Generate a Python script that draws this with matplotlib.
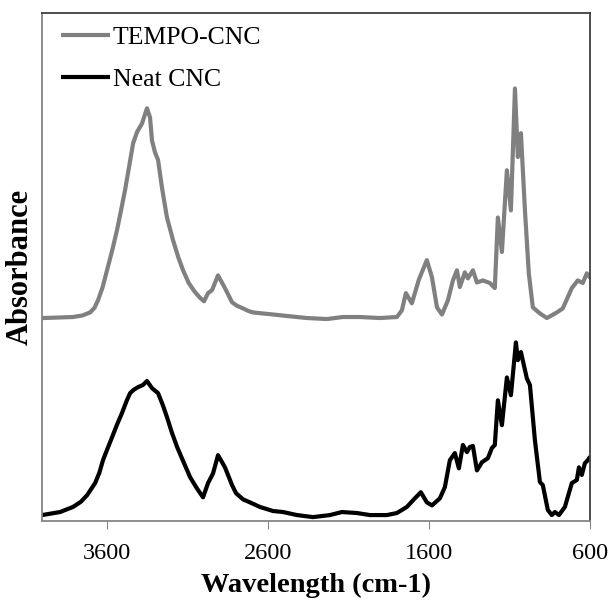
import matplotlib
matplotlib.use("Agg")
import matplotlib.pyplot as plt

# FTIR spectra, wavenumber (cm-1) and absorbance (arbitrary, offset)
tempo_wn = [3994, 3900, 3808, 3750, 3702, 3675, 3653, 3625, 3597, 3565, 3535, 3510, 3485,
            3460, 3435, 3411, 3380, 3349, 3330, 3318, 3300, 3280, 3256, 3225, 3187, 3155,
            3125, 3090, 3051, 3020, 2995, 2970, 2945, 2908, 2865, 2821, 2790, 2753, 2720,
            2691, 2630, 2567, 2480, 2356, 2232, 2133, 2027, 1903, 1798, 1767, 1742, 1705,
            1661, 1612, 1580, 1549, 1518, 1481, 1450, 1425, 1407, 1376, 1357, 1326, 1301,
            1264, 1221, 1190, 1171, 1146, 1115, 1090, 1065, 1047, 1028, 1003, 979, 954, 910,
            867, 805, 768, 712, 675, 644, 619, 600]
tempo_abs = [0.400, 0.401, 0.402, 0.405, 0.411, 0.420, 0.435, 0.460, 0.494, 0.533, 0.573,
             0.612, 0.652, 0.698, 0.744, 0.766, 0.783, 0.813, 0.795, 0.750, 0.727, 0.711,
             0.657, 0.598, 0.553, 0.520, 0.494, 0.469, 0.451, 0.440, 0.433, 0.449, 0.455,
             0.484, 0.459, 0.431, 0.424, 0.419, 0.414, 0.411, 0.409, 0.407, 0.404, 0.400,
             0.398, 0.402, 0.402, 0.400, 0.402, 0.415, 0.449, 0.429, 0.476, 0.514, 0.480,
             0.421, 0.407, 0.435, 0.474, 0.494, 0.461, 0.490, 0.478, 0.494, 0.470, 0.474,
             0.469, 0.459, 0.598, 0.530, 0.691, 0.612, 0.852, 0.717, 0.764, 0.612, 0.488,
             0.421, 0.409, 0.400, 0.411, 0.419, 0.459, 0.474, 0.469, 0.488, 0.480]

neat_wn = [4000, 3888, 3808, 3760, 3721, 3671, 3645, 3622, 3595, 3566, 3535, 3504, 3475,
           3454, 3430, 3404, 3375, 3349, 3318, 3280, 3250, 3225, 3195, 3162, 3120, 3082,
           3040, 3001, 2970, 2939, 2908, 2865, 2821, 2796, 2753, 2710, 2648, 2567, 2505,
           2418, 2319, 2213, 2139, 2046, 1965, 1860, 1798, 1736, 1686, 1649, 1612, 1580,
           1531, 1500, 1469, 1438, 1413, 1388, 1363, 1345, 1326, 1301, 1270, 1233, 1208,
           1190, 1171, 1146, 1115, 1090, 1059, 1047, 1028, 991, 972, 941, 910, 892, 861,
           836, 817, 792, 755, 712, 681, 668, 650, 631, 613, 600]
neat_abs = [0.012, 0.018, 0.028, 0.038, 0.051, 0.075, 0.095, 0.120, 0.142, 0.165, 0.190,
            0.213, 0.237, 0.252, 0.259, 0.264, 0.268, 0.276, 0.262, 0.252, 0.228, 0.205,
            0.175, 0.146, 0.115, 0.087, 0.065, 0.047, 0.075, 0.094, 0.130, 0.106, 0.071,
            0.055, 0.043, 0.037, 0.028, 0.020, 0.018, 0.012, 0.008, 0.012, 0.018, 0.016,
            0.012, 0.012, 0.016, 0.028, 0.045, 0.057, 0.037, 0.031, 0.045, 0.067, 0.120,
            0.134, 0.104, 0.150, 0.136, 0.146, 0.148, 0.100, 0.116, 0.124, 0.144, 0.150,
            0.238, 0.189, 0.283, 0.248, 0.352, 0.317, 0.333, 0.281, 0.268, 0.159, 0.077,
            0.071, 0.022, 0.012, 0.018, 0.012, 0.028, 0.075, 0.081, 0.106, 0.091, 0.114,
            0.120, 0.126]

x_ticks = [3600, 2600, 1600, 600]

plt.rcParams["font.family"] = ["Liberation Serif", "DejaVu Serif"]

fig = plt.figure(figsize=(6.10, 6.06), dpi=100)
ax = fig.add_axes([0.069, 0.140, 0.898, 0.838])

ax.plot(tempo_wn, tempo_abs, color="#808080", lw=3, label="TEMPO-CNC",
        solid_joinstyle="round", solid_capstyle="round")
ax.plot(neat_wn, neat_abs, color="black", lw=3, label="Neat CNC",
        solid_joinstyle="round", solid_capstyle="round")

ax.set_xlim(4000, 600)
ax.set_ylim(0, 1)
ax.set_xticks(x_ticks)
ax.set_xticklabels([str(t) for t in x_ticks], fontsize=17.5)
ax.set_yticks([])
ax.tick_params(axis="x", direction="out", length=6, color="#868686", pad=10)

for side in ["left", "bottom"]:
    ax.spines[side].set_color("#868686")
    ax.spines[side].set_linewidth(1.3)
for side in ["top", "right"]:
    ax.spines[side].set_color("#404040")
    ax.spines[side].set_linewidth(1.3)

ax.set_xlabel("Wavelength (cm-1)", fontsize=20.5, fontweight="bold", labelpad=6)
ax.set_ylabel("Absorbance", fontsize=22, fontweight="bold", labelpad=5)

leg = ax.legend(loc="upper left", fontsize=18.5, frameon=False, handlelength=1.9,
                handletextpad=0.1, labelspacing=0.72, borderaxespad=0.2,
                bbox_to_anchor=(0.007, 1.005))
for line in leg.get_lines():
    line.set_solid_capstyle("butt")

fig.savefig("out.png", dpi=100)
